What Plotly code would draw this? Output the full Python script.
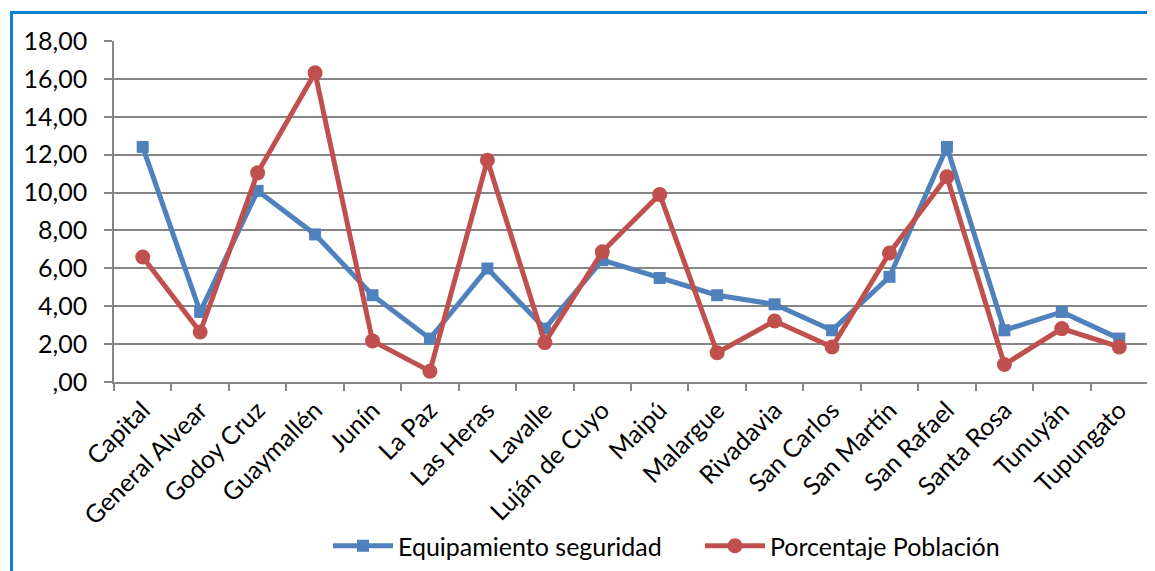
import plotly.graph_objects as go

categories = ["Capital", "General Alvear", "Godoy Cruz", "Guaymallén", "Junín", "La Paz",
              "Las Heras", "Lavalle", "Luján de Cuyo", "Maipú", "Malargue", "Rivadavia",
              "San Carlos", "San Martín", "San Rafael", "Santa Rosa", "Tunuyán", "Tupungato"]
equipamiento = [12.41, 3.70, 10.09, 7.79, 4.58, 2.29, 5.99, 2.82, 6.43, 5.49, 4.58, 4.10,
                2.73, 5.55, 12.41, 2.73, 3.70, 2.29]
poblacion = [6.60, 2.64, 11.04, 16.32, 2.17, 0.57, 11.71, 2.08, 6.87, 9.90, 1.55, 3.22,
             1.85, 6.81, 10.83, 0.92, 2.82, 1.85]
y_tickvals = [0, 2, 4, 6, 8, 10, 12, 14, 16, 18]
y_ticktext = [",00", "2,00", "4,00", "6,00", "8,00", "10,00", "12,00", "14,00", "16,00", "18,00"]

FONT = "Lato"
FS = 25
fig = go.Figure()
fig.add_trace(go.Scatter(x=categories, y=equipamiento, mode="lines+markers",
                         name="Equipamiento seguridad",
                         line=dict(color="#4F81BD", width=5),
                         marker=dict(symbol="square", size=12, color="#4F81BD")))
fig.add_trace(go.Scatter(x=categories, y=poblacion, mode="lines+markers",
                         name="Porcentaje Población",
                         line=dict(color="#C0504D", width=5),
                         marker=dict(symbol="circle", size=15, color="#C0504D")))

# the page body has an 8px default margin; figure coordinates are offset by it
OFF = 8
W, H = 1155 - OFF, 571 - OFF
L, R, T, B = 114 - OFF, 7, 41 - OFF, 189
pw, ph = W - L - R, H - T - B

def px(x):
    return (x - OFF - L) / pw

def py(y):
    return (H - B - (y - OFF)) / ph

fig.update_layout(
    width=W, height=H,
    margin=dict(l=L, r=R, t=T, b=B, autoexpand=False),
    paper_bgcolor="white", plot_bgcolor="white",
    font=dict(family=FONT, size=FS, color="black"),
    showlegend=True,
    legend=dict(orientation="h", x=px(328), xanchor="left", y=py(546), yanchor="middle",
                font=dict(family=FONT, size=FS, color="black"), itemwidth=60,
                entrywidth=297, entrywidthmode="pixels", tracegroupgap=0),
    xaxis=dict(type="category", range=[-0.5, 17.5], tickangle=-45, automargin=False,
               showline=True, linecolor="#868686", linewidth=1.5,
               ticks="outside", tickson="boundaries", ticklen=7, tickcolor="#868686",
               tickwidth=1.5, showgrid=False, ticklabelstandoff=2,
               tickfont=dict(family=FONT, size=FS, color="black")),
    yaxis=dict(range=[0, 18], tickvals=y_tickvals, ticktext=y_ticktext, automargin=False,
               showgrid=True, gridcolor="#868686", gridwidth=1.5,
               showline=True, linecolor="#868686", linewidth=1.5,
               ticks="outside", ticklen=8, tickcolor="#868686", tickwidth=1.5,
               zeroline=False, ticklabelstandoff=12,
               tickfont=dict(family=FONT, size=FS, color="black")),
    shapes=[dict(type="rect", xref="paper", yref="paper",
                 x0=px(11.5), x1=px(1175), y0=py(12.5), y1=py(600),
                 line=dict(color="#0A84D2", width=3), layer="below")],
)

fig.write_html("out.html")
